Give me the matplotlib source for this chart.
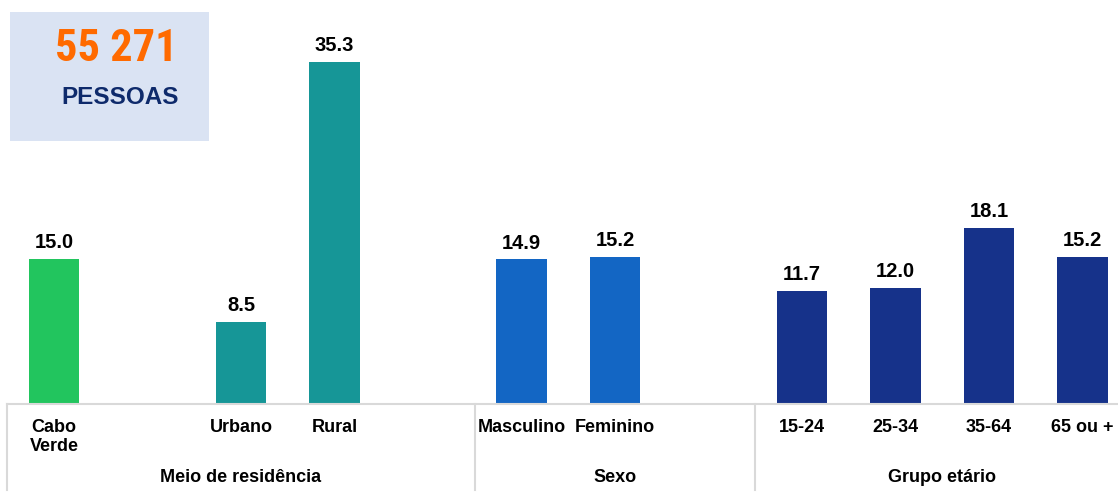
import matplotlib.pyplot as plt
from matplotlib.patches import Rectangle
from matplotlib import font_manager

# data
labels = ["Cabo\nVerde", "", "Urbano", "Rural", "", "Masculino", "Feminino", "",
          "15-24", "25-34", "35-64", "65 ou +"]
values = [15.0, None, 8.5, 35.3, None, 14.9, 15.2, None, 11.7, 12.0, 18.1, 15.2]
groups = ["Meio de residência", "Sexo", "Grupo etário"]
group_bounds = [(-0.5, 4.5), (4.5, 7.5), (7.5, 11.5)]
total = "55 271"
total_label = "PESSOAS"

colors = ["#22c55e", None, "#169697", "#169697", None, "#1366c4", "#1366c4", None,
          "#16328a", "#16328a", "#16328a", "#16328a"]

plt.rcParams['font.family'] = ['Liberation Sans', 'DejaVu Sans']

# narrow font for the big number if one is available
names = {f.name for f in font_manager.fontManager.ttflist}
narrow = [n for n in ["Liberation Sans Narrow", "DejaVu Sans Condensed", "Roboto Condensed"] if n in names]

W, H = 1118, 500
fig = plt.figure(figsize=(W / 100, H / 100), dpi=100)
ax = fig.add_axes([7.25 / W, (H - 404) / H, 1122 / W, 404 / H])

for i, (v, c) in enumerate(zip(values, colors)):
    if v is None:
        continue
    ax.bar(i, v, width=0.535, color=c)
    ax.annotate(f"{v:.1f}", (i, v), xytext=(0, 5), textcoords="offset points",
                ha="center", va="bottom", fontsize=14.5, fontweight="bold", color="black")

ax.set_xlim(-0.5, 11.5)
ax.set_ylim(0, 41.65)
ax.axis("off")

# baseline and separators
trans = ax.get_xaxis_transform()
ax.plot([-0.5, 11.5], [0, 0], transform=trans, color="#d9d9d9", lw=1.5, clip_on=False)
for x in [-0.5, 4.5, 7.5]:
    ax.plot([x, x], [0, -86 / 404], transform=trans, color="#d9d9d9", lw=1.5, clip_on=False)

for i, lab in enumerate(labels):
    if lab:
        ax.text(i, -15 / 404, lab, transform=trans, ha="center", va="top",
                fontsize=13, fontweight="bold", linespacing=1.15)

for g, (a, b) in zip(groups, group_bounds):
    ax.text((a + b) / 2, -73 / 404, g, transform=trans, ha="center", va="center",
            fontsize=13, fontweight="bold")

# summary box
fig.patches.append(Rectangle((10 / W, (H - 141) / H), 199 / W, 129 / H,
                             transform=fig.transFigure, facecolor="#dae3f3",
                             edgecolor="none", zorder=0))
if narrow:
    fig.text(116 / W, 1 - 49 / H, total, ha="center", va="center", fontsize=32,
             fontweight="bold", color="#ff6a00", family=narrow[0])
else:
    fig.text(116 / W, 1 - 49 / H, total, ha="center", va="center", fontsize=29,
             fontweight="bold", color="#ff6a00")
fig.text(120 / W, 1 - 97 / H, total_label, ha="center", va="center", fontsize=17.5,
         fontweight="bold", color="#0e2a6b")

fig.savefig("out.png", dpi=100)
